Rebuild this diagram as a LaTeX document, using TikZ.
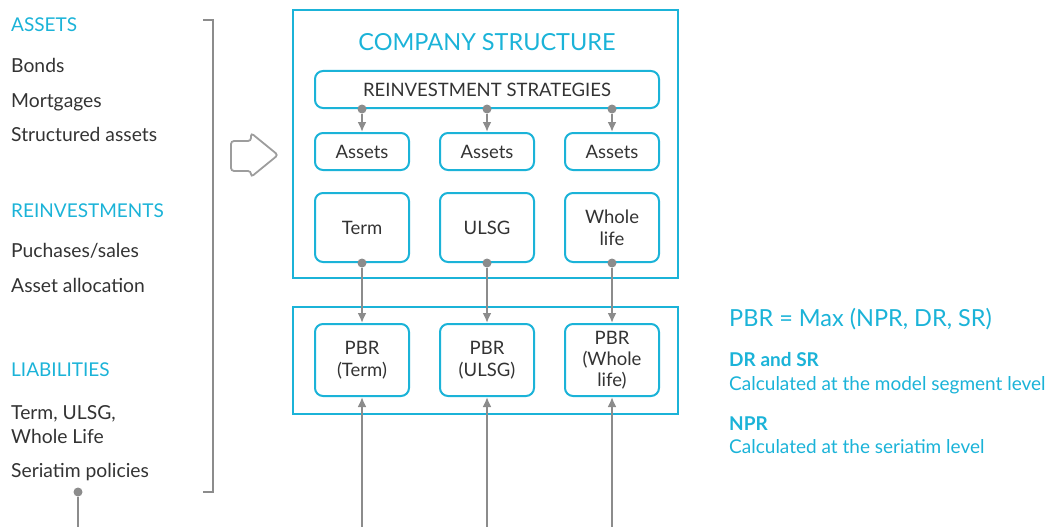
\documentclass[tikz,border=0pt]{standalone}
\usepackage{fontspec}
\setmainfont{Lato}
\usetikzlibrary{positioning,arrows.meta,calc}
\usepackage{xcolor}
\definecolor{mcyan}{HTML}{1BB3D8}
\definecolor{mgrey}{HTML}{8C8C8C}
\definecolor{mtext}{HTML}{333333}
\tikzstyle{l1}=[line width=2pt]
\tikzstyle{frame}=[draw=mcyan, line width=2.6pt, inner sep=0pt]
\tikzstyle{box}=[draw=mcyan, l1, rounded corners=8pt, minimum width=94pt, inner sep=0pt, align=center, text=mtext, font=\fontsize{18.5}{22}\selectfont]
\tikzstyle{conn}=[l1, draw=mgrey, -{Latex[length=10pt,width=9pt]}]
\tikzstyle{dot}=[circle, fill=mgrey, minimum size=9pt, inner sep=0pt]
\tikzstyle{head}=[anchor=base west, text=mcyan, inner sep=0pt, font=\fontsize{19}{22}\selectfont]
\tikzstyle{item}=[anchor=base west, text=mtext, inner sep=0pt, font=\fontsize{19.3}{22}\selectfont]

\begin{document}
\begin{tikzpicture}[x=1pt, y=-1pt, node distance=1cm, on grid]
    \useasboundingbox (0,0) rectangle (1052,527);

    % left column
    \node[head] (hass) at (11,32) {ASSETS};
    \node[item] (bonds) at (11,73) {Bonds};
    \node[item] (mort) at (11,107) {Mortgages};
    \node[item] (struct) at (11,141) {Structured assets};
    \node[head] (hrei) at (11,217) {REINVESTMENTS};
    \node[item] (purch) at (11,257) {Puchases/sales};
    \node[item] (alloc) at (11,292) {Asset allocation};
    \node[head] (hlia) at (11,376) {LIABILITIES};
    \node[item] (lia1) at (11,419) {Term, ULSG,};
    \node[item] (lia2) at (11,443) {Whole Life};
    \node[item] (seri) at (11,477) {Seriatim policies};

    \draw[mgrey, line width=1.8pt] (203,20) -- (213,20) -- (213,492) -- (203,492);
    \node[dot] (sd) at (78,492) {};
    \coordinate (sbot) at (78,527);
    \draw[l1, mgrey] (sd) -- (sbot);

    % hollow arrow
    \draw[mgrey!85, line width=1.8pt, rounded corners=3pt] (231,141) -- (251,141) -- (251,133) -- (278,155) -- (251,177) -- (251,171) -- (231,171) -- cycle;

    % company structure
    \node[frame, minimum width=385pt, minimum height=268pt] (cs) at (485.5,144) {};
    \node[text=mcyan, font=\fontsize{23.5}{28}\selectfont] (cst) at (487,42) {COMPANY STRUCTURE};
    \node[box, minimum width=344pt, minimum height=37pt] (rs) at (487,89.5) {REINVESTMENT STRATEGIES};

    \node[box, minimum height=37pt] (a1) at (362,151.5) {Assets};
    \node[box, minimum height=37pt] (a2) [right = 125pt of a1] {Assets};
    \node[box, minimum height=37pt] (a3) [right = 125pt of a2] {Assets};

    \node[box, minimum height=69pt] (t1) [below = 76pt of a1] {Term};
    \node[box, minimum height=69pt] (t2) [below = 76pt of a2] {ULSG};
    \node[box, minimum height=69pt] (t3) [below = 76pt of a3] {Whole\\life};

    \foreach \i in {1,2,3}{
            \node[dot] (r\i) at (a\i |- rs.south) {};
            \draw[conn] (r\i) -- (a\i);
        }

    % PBR
    \node[frame, minimum width=385pt, minimum height=107pt] (pb) at (485.5,360.5) {};
    \node[box, minimum height=72pt] (p1) [below = 132.5pt of t1] {PBR\\(Term)};
    \node[box, minimum height=72pt] (p2) [below = 132.5pt of t2] {PBR\\(ULSG)};
    \node[box, minimum height=72pt, font=\fontsize{18.5}{21}\selectfont] (p3) [below = 132.5pt of t3] {PBR\\(Whole\\life)};

    \foreach \i in {1,2,3}{
            \node[dot] (td\i) at (t\i.south) {};
            \draw[conn] (td\i) -- (p\i);
            \coordinate (bot\i) at (p\i |- sbot);
            \draw[conn] (bot\i) -- (p\i);
        }

    % right column
    \node[head, font=\fontsize{23.5}{26}\selectfont] (pbrmax) at (729,326) {PBR = Max (NPR, DR, SR)};
    \node[head, font=\bfseries\fontsize{19}{22}\selectfont] (drsr) at (729,366) {DR and SR};
    \node[head] (drsrt) at (729,390) {Calculated at the model segment level};
    \node[head, font=\bfseries\fontsize{19}{22}\selectfont] (npr) at (729,430) {NPR};
    \node[head] (nprt) at (729,453) {Calculated at the seriatim level};

\end{tikzpicture}
\end{document}
